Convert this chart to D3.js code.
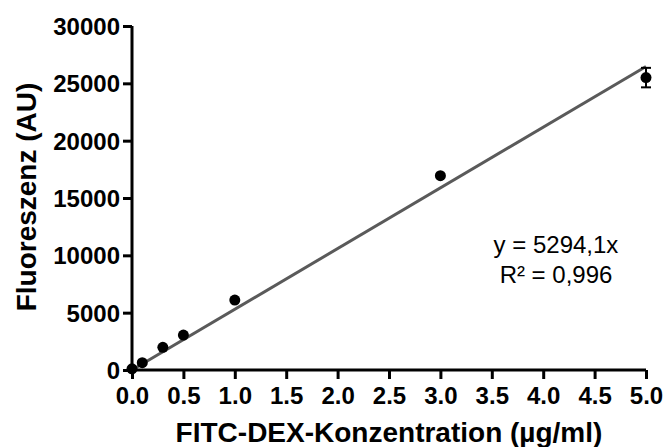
<!DOCTYPE html>
<html>
<head>
<meta charset="utf-8">
<script src="https://cdn.jsdelivr.net/npm/d3@7"></script>
<style>
  html, body { margin: 0; padding: 0; background: #fff; }
  svg { display: block; font-family: "Liberation Sans", Arial, sans-serif; }
</style>
</head>
<body>
<svg id="chart" width="665" height="447"></svg>
<script>
// Calibration: FITC-dextran concentration vs. fluorescence
const concentrations = [0, 0.1, 0.3, 0.5, 1.0, 3.0, 5.0];      // µg/ml
const fluorescence   = [100, 640, 1980, 3050, 6100, 16950, 25500]; // AU
const errors         = [0, 0, 0, 0, 0, 0, 850];                  // SD
const slope = 5294.1;
const r2Label = "0,996";
const xTicks = [0, 0.5, 1, 1.5, 2, 2.5, 3, 3.5, 4, 4.5, 5];
const yTicks = [0, 5000, 10000, 15000, 20000, 25000, 30000];

const svg = d3.select("#chart");
const x = d3.scaleLinear().domain([0, 5]).range([132, 646]);
const y = d3.scaleLinear().domain([0, 30000]).range([370, 26]);

// Regression line through the origin
svg.append("line")
  .attr("x1", x(0)).attr("y1", y(0))
  .attr("x2", x(5)).attr("y2", y(slope * 5))
  .attr("stroke", "#5a5a5a").attr("stroke-width", 3);

// Axes
const xAxis = svg.append("g")
  .attr("transform", `translate(0,${y(0)})`)
  .call(d3.axisBottom(x).tickValues(xTicks).tickFormat(d3.format(".1f")).tickSize(9).tickPadding(4));
const yAxis = svg.append("g")
  .attr("transform", `translate(${x(0)},0)`)
  .call(d3.axisLeft(y).tickValues(yTicks).tickFormat(d => d).tickSize(9).tickPadding(3));

[xAxis, yAxis].forEach(g => {
  g.select(".domain").attr("stroke", "#000").attr("stroke-width", 3);
  g.selectAll(".tick line").attr("stroke", "#000").attr("stroke-width", 3);
  g.selectAll(".tick text").attr("fill", "#000")
    .style("font-size", "24px").style("font-weight", "bold");
});
// Plain axis lines without end caps
xAxis.select(".domain").attr("d", `M${x(0)},0H${x(5)}`);
yAxis.select(".domain").attr("d", `M0,${y(0)}V${y(30000)}`);
xAxis.selectAll(".tick text").attr("dy", "0.88em");
yAxis.selectAll(".tick text").attr("dy", "0.36em");

// Error bars
const errData = concentrations.map((c, i) => ({ c, v: fluorescence[i], e: errors[i] })).filter(d => d.e > 0);
const eb = svg.append("g").attr("stroke", "#000").attr("stroke-width", 2);
errData.forEach(d => {
  eb.append("line").attr("x1", x(d.c)).attr("x2", x(d.c)).attr("y1", y(d.v - d.e)).attr("y2", y(d.v + d.e));
  eb.append("line").attr("x1", x(d.c) - 5).attr("x2", x(d.c) + 5).attr("y1", y(d.v - d.e)).attr("y2", y(d.v - d.e));
  eb.append("line").attr("x1", x(d.c) - 5).attr("x2", x(d.c) + 5).attr("y1", y(d.v + d.e)).attr("y2", y(d.v + d.e));
});

// Data points
svg.append("g").selectAll("circle")
  .data(concentrations.map((c, i) => [c, fluorescence[i]]))
  .join("circle")
  .attr("cx", d => x(d[0])).attr("cy", d => y(d[1]))
  .attr("r", 5.5).attr("fill", "#000");

// Axis titles
svg.append("text")
  .attr("x", 389).attr("y", 442)
  .attr("text-anchor", "middle")
  .style("font-size", "28px").style("font-weight", "bold")
  .text("FITC-DEX-Konzentration (µg/ml)");
svg.append("text")
  .attr("transform", "translate(36,197) rotate(-90)")
  .attr("text-anchor", "middle")
  .style("font-size", "28px").style("font-weight", "bold")
  .text("Fluoreszenz (AU)");

// Regression equation
const eq = svg.append("g").attr("text-anchor", "middle").style("font-size", "24px");
eq.append("text").attr("x", 556).attr("y", 253).text(`y = ${String(slope).replace(".", ",")}x`);
eq.append("text").attr("x", 556).attr("y", 283).text(`R² = ${r2Label}`);
</script>
</body>
</html>
